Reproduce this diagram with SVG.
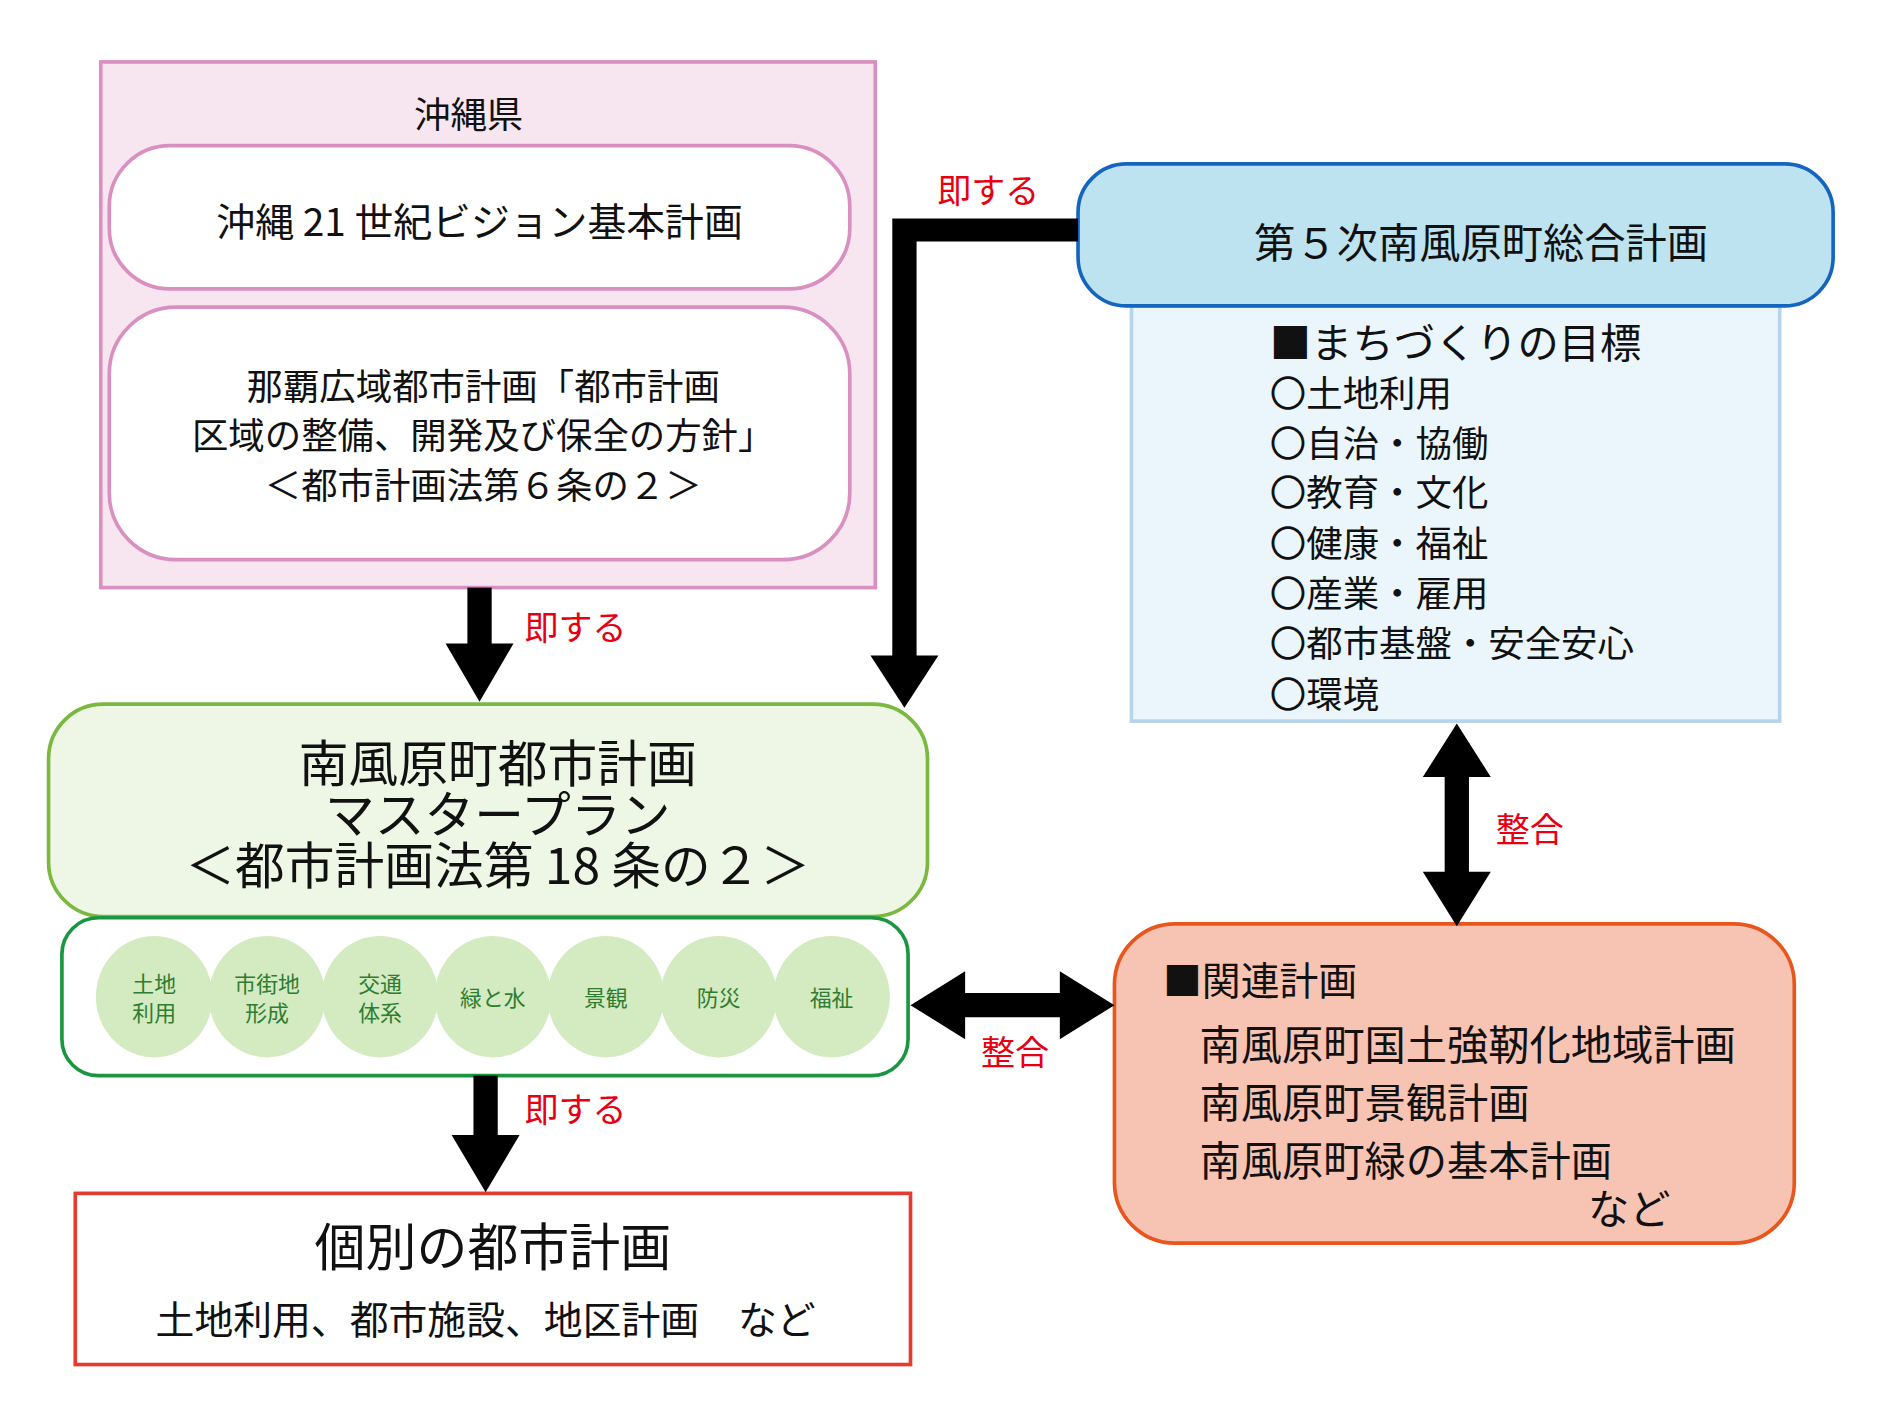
<svg xmlns="http://www.w3.org/2000/svg" width="1900" height="1428" viewBox="0 0 1900 1428">
<style>
text{font-family:"Noto Sans CJK JP","Noto Sans",sans-serif;dominant-baseline:central;fill:#111}
.c{text-anchor:middle}
.red{fill:#e60012}
.g{fill:#2e7d32;font-size:18px;text-anchor:middle}
.circ{fill:#d4eac0}
</style>
<rect width="1900" height="1428" fill="#fff"/>
<g transform="scale(1.214)">
<g id="okinawa">
<rect x="83" y="51" width="638" height="433" fill="#f7e6f0" stroke="#d98fbf" stroke-width="3"/>
<text class="c" x="386" y="92" font-size="30">沖縄県</text>
<rect x="90" y="120" width="610" height="118" rx="50" fill="#fff" stroke="#d98fbf" stroke-width="3"/>
<text class="c" x="395" y="180" font-size="32">沖縄 21 世紀ビジョン基本計画</text>
<rect x="90" y="253" width="610" height="208" rx="55" fill="#fff" stroke="#d98fbf" stroke-width="3"/>
<text class="c" x="398" y="316" font-size="30">那覇広域都市計画「都市計画</text>
<text class="c" x="398" y="357" font-size="30">区域の整備、開発及び保全の方針」</text>
<text class="c" x="398" y="398" font-size="30">＜都市計画法第６条の２＞</text>
</g>
<g id="masterplan">
<rect x="40" y="580" width="724" height="175" rx="45" fill="#eef6e6" stroke="#7ab840" stroke-width="3"/>
<text class="c" x="410" y="626" font-size="41">南風原町都市計画</text>
<text class="c" x="410" y="668" font-size="41">マスタープラン</text>
<text class="c" x="410" y="710" font-size="41">＜都市計画法第 18 条の２＞</text>
</g>
<g id="policies">
<rect x="51" y="756" width="697" height="130" rx="30" fill="#fff" stroke="#1a9641" stroke-width="3"/>
<ellipse class="circ" cx="127" cy="821" rx="48" ry="50"/>
<ellipse class="circ" cx="220" cy="821" rx="48" ry="50"/>
<ellipse class="circ" cx="313" cy="821" rx="48" ry="50"/>
<ellipse class="circ" cx="406" cy="821" rx="48" ry="50"/>
<ellipse class="circ" cx="499" cy="821" rx="48" ry="50"/>
<ellipse class="circ" cx="592" cy="821" rx="48" ry="50"/>
<ellipse class="circ" cx="685" cy="821" rx="48" ry="50"/>
<text class="g" x="127" y="809">土地</text><text class="g" x="127" y="833">利用</text>
<text class="g" x="220" y="809">市街地</text><text class="g" x="220" y="833">形成</text>
<text class="g" x="313" y="809">交通</text><text class="g" x="313" y="833">体系</text>
<text class="g" x="406" y="821">緑と水</text>
<text class="g" x="499" y="821">景観</text>
<text class="g" x="592" y="821">防災</text>
<text class="g" x="685" y="821">福祉</text>
</g>
<g id="individual">
<rect x="62" y="983" width="688" height="141" fill="#fff" stroke="#e53a30" stroke-width="3"/>
<text class="c" x="406" y="1025" font-size="42">個別の都市計画</text>
<text class="c" x="400" y="1085" font-size="32">土地利用、都市施設、地区計画　など</text>
</g>
<g id="sogo">
<rect x="932" y="252" width="534" height="342" fill="#eaf6fb" stroke="#b7d4ea" stroke-width="3"/>
<rect x="888" y="135" width="622" height="117" rx="40" fill="#bde3f0" stroke="#1565c0" stroke-width="3"/>
<text class="c" x="1220" y="198" font-size="34">第５次南風原町総合計画</text>
<text x="1046" y="280" font-size="34">■まちづくりの目標</text>
<text x="1046" y="322" font-size="30">〇土地利用</text>
<text x="1046" y="363" font-size="30">〇自治・協働</text>
<text x="1046" y="404" font-size="30">〇教育・文化</text>
<text x="1046" y="446" font-size="30">〇健康・福祉</text>
<text x="1046" y="487" font-size="30">〇産業・雇用</text>
<text x="1046" y="528" font-size="30">〇都市基盤・安全安心</text>
<text x="1046" y="570" font-size="30">〇環境</text>
</g>
<g id="related">
<rect x="918" y="761" width="560" height="263" rx="50" fill="#f7c4b4" stroke="#e8561e" stroke-width="3"/>
<text x="958" y="806" font-size="32">■関連計画</text>
<text x="988" y="858" font-size="34">南風原町国土強靭化地域計画</text>
<text x="988" y="906" font-size="34">南風原町景観計画</text>
<text x="988" y="954" font-size="34">南風原町緑の基本計画</text>
<text x="1308" y="993" font-size="34">など</text>
</g>
<g id="connectors" fill="#000">
<rect x="385" y="484" width="20" height="48"/><polygon points="367,530 423,530 395,578"/>
<rect x="390" y="886" width="20" height="51"/><polygon points="372,935 428,935 400,982"/>
<polygon points="888,180 888,199 755,199 755,540 773,540 745,583 717,540 735,540 735,180"/>
<polygon points="1200,596 1228,640 1210,640 1210,718 1228,718 1200,763 1172,718 1190,718 1190,640 1172,640"/>
<polygon points="750,828 795,800 795,818 873,818 873,800 918,828 873,856 873,838 795,838 795,856"/>
<text class="red" x="432" y="515" font-size="28">即する</text>
<text class="red" x="432" y="912" font-size="28">即する</text>
<text class="red" x="772" y="155" font-size="28">即する</text>
<text class="red" x="1232" y="682" font-size="28">整合</text>
<text class="red" x="808" y="865" font-size="28">整合</text>
</g>
</g>
</svg>
